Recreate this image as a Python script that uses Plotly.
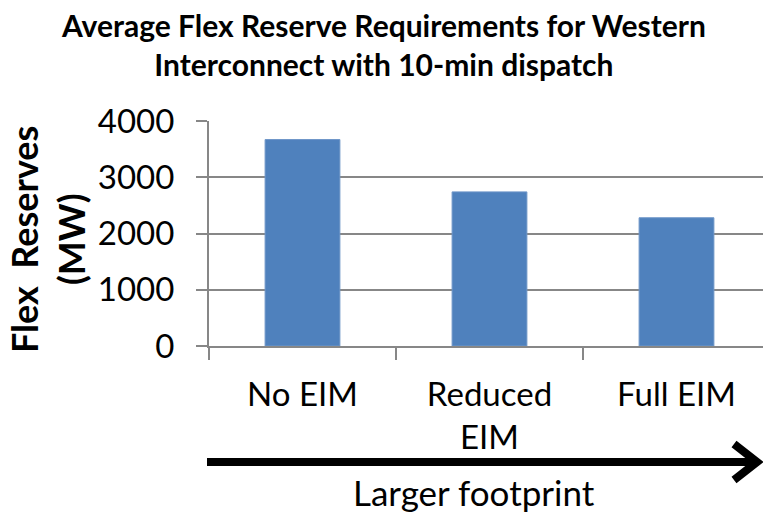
import plotly.graph_objects as go

categories = ["No EIM", "Reduced<br>EIM", "Full EIM"]
flex_reserves = [3670, 2740, 2280]
y_ticks = [0, 1000, 2000, 3000, 4000]

W, H = 763, 513
L, R, T, B = 209, 0, 121, 167
pw, ph = W - L - R, H - T - B

def px(x):
    return (x - L) / pw

def py(y):
    return (H - B - y) / ph

GRID = "#878787"
FONT = "Lato"

fig = go.Figure(go.Bar(
    x=categories, y=flex_reserves,
    marker=dict(color="#4F81BD", line=dict(color="#6E96C8", width=1)),
    width=0.40,
))

fig.update_layout(
    width=W, height=H,
    margin=dict(l=L, r=R, t=T, b=B),
    paper_bgcolor="white", plot_bgcolor="white",
    showlegend=False,
    font=dict(family=FONT, color="black"),
    xaxis=dict(
        type="category",
        range=[-0.5, -0.5 + pw / 187.0],
        showline=True, linecolor=GRID, linewidth=2,
        ticks="outside", tickson="boundaries", ticklen=12, tickcolor=GRID, tickwidth=2,
        ticklabelstandoff=18,
        tickfont=dict(family=FONT, size=33, color="black"),
        showgrid=False,
    ),
    yaxis=dict(
        range=[0, 4000], tickvals=y_ticks,
        showline=True, linecolor=GRID, linewidth=2,
        ticks="outside", ticklen=11, tickcolor=GRID, tickwidth=2,
        ticklabelstandoff=15,
        tickfont=dict(family=FONT, size=33, color="black"),
        showgrid=True, gridcolor=GRID, gridwidth=2,
        zeroline=False,
    ),
    annotations=[
        dict(
            text="<b>Average Flex Reserve Requirements for Western<br>Interconnect with 10-min dispatch</b>",
            x=px(383), y=py(44), xref="paper", yref="paper",
            xanchor="center", yanchor="middle",
            showarrow=False,
            font=dict(family=FONT, size=30, color="black"),
        ),
        dict(
            text="<b>Flex\u00a0 Reserves<br>(MW)</b>",
            textangle=-90,
            x=px(47), y=py(240), xref="paper", yref="paper",
            xanchor="center", yanchor="middle",
            showarrow=False,
            font=dict(family=FONT, size=36, color="black"),
        ),
        dict(
            text="Larger footprint",
            x=px(474), y=py(492), xref="paper", yref="paper",
            xanchor="center", yanchor="middle",
            showarrow=False,
            font=dict(family=FONT, size=35, color="black"),
        ),
    ],
    shapes=[
        dict(type="line", xref="paper", yref="paper",
             x0=px(207), y0=py(462), x1=px(756), y1=py(462),
             line=dict(color="black", width=8)),
        dict(type="path", xref="paper", yref="paper",
             path=f"M {px(734)},{py(444)} L {px(757)},{py(462)} L {px(734)},{py(480)}",
             line=dict(color="black", width=8)),
    ],
)

fig.write_html("out.html")
